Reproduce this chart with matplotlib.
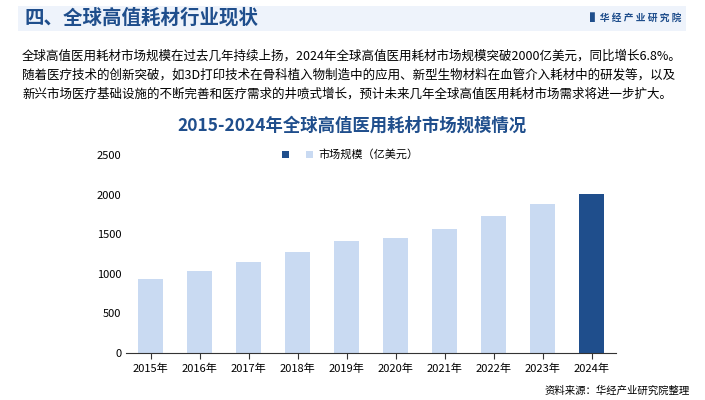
import matplotlib
matplotlib.use("Agg")
import matplotlib.pyplot as plt
from matplotlib.patches import Rectangle

plt.rcParams['font.family'] = ['Noto Sans CJK SC', 'DejaVu Sans']

years = ["2015年","2016年","2017年","2018年","2019年","2020年","2021年","2022年","2023年","2024年"]
values = [930, 1030, 1150, 1270, 1415, 1455, 1565, 1730, 1880, 2010]
yticks = [0, 500, 1000, 1500, 2000, 2500]

W, H = 705, 400
fig = plt.figure(figsize=(W/100, H/100), dpi=100)
fig.patch.set_facecolor('white')

fig.add_artist(Rectangle((18/W, 1-31/H), (686-18)/W, 25/H, transform=fig.transFigure,
                         facecolor='#eef3fb', edgecolor='none'))
fig.text(24/W, 1-18/H, "四、全球高值耗材行业现状", fontsize=14, fontweight='bold',
         color='#1f4e8c', va='center')
fig.text(682/W, 1-18/H, "▌华 经 产 业 研 究 院", fontsize=7, fontweight='bold',
         color='#1f4e8c', va='center', ha='right')

para = ("全球高值医用耗材市场规模在过去几年持续上扬，2024年全球高值医用耗材市场规模突破2000亿美元，同比增长6.8%。\n"
        "随着医疗技术的创新突破，如3D打印技术在骨科植入物制造中的应用、新型生物材料在血管介入耗材中的研发等，以及\n"
        "新兴市场医疗基础设施的不断完善和医疗需求的井喷式增长，预计未来几年全球高值医用耗材市场需求将进一步扩大。")
fig.text(22/W, 1-50/H, para, fontsize=9.0, color='black', va='top', linespacing=1.6)

fig.text(352/W, 1-126/H, "2015-2024年全球高值医用耗材市场规模情况", fontsize=12.5,
         fontweight='bold', color='#1f4e8c', ha='center', va='center')

ax = fig.add_axes([126/W, 1-353/H, (616-126)/W, (353-155)/H])
colors = ['#c9daf2']*(len(values)-1) + ['#1f4e8c']
ax.bar(range(len(values)), values, width=0.52, color=colors)
ax.set_xlim(-0.5, len(values)-0.5)
ax.set_ylim(0, 2500)
ax.set_yticks(yticks)
ax.set_xticks(range(len(values)))
ax.set_xticklabels(years)
ax.tick_params(axis='both', labelsize=8, length=0)
ax.tick_params(axis='x', length=4, color='#333333', direction='out')
for s in ['top', 'right', 'left']:
    ax.spines[s].set_visible(False)
ax.spines['bottom'].set_color('#333333')

fig.add_artist(Rectangle((282/W, 1-158/H), 7/W, 7/H, transform=fig.transFigure, facecolor='#1f4e8c'))
fig.add_artist(Rectangle((306/W, 1-158/H), 7/W, 7/H, transform=fig.transFigure, facecolor='#c9daf2'))
fig.text(318/W, 1-154/H, "市场规模（亿美元）", fontsize=8, va='center')

fig.text(690/W, 1-391/H, "资料来源：华经产业研究院整理", fontsize=7.5, ha='right', va='center')

fig.savefig("out.png", dpi=100)
